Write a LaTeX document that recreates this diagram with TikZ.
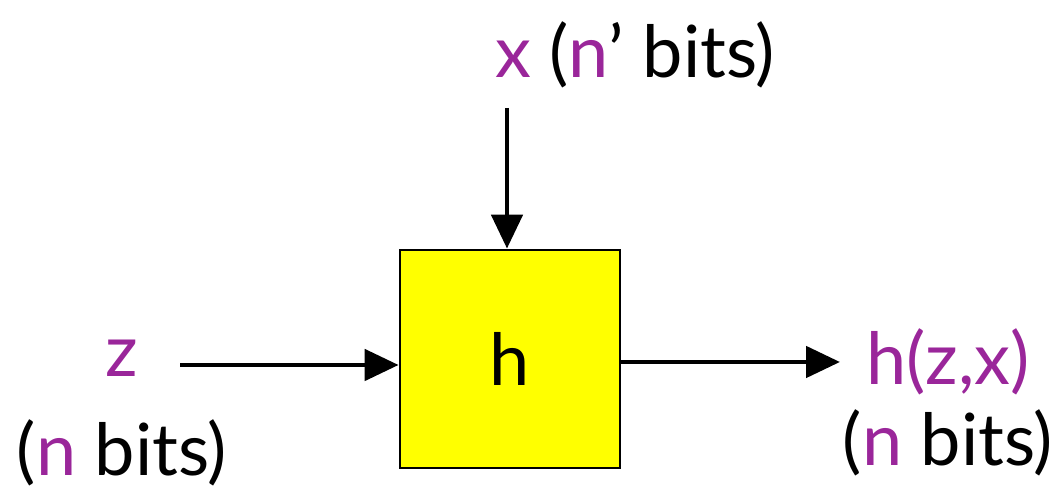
\documentclass[tikz,border=0pt]{standalone}
\usepackage{fontspec}
\setmainfont{Lato}
\usepackage{tikz}
\usetikzlibrary{arrows.meta,positioning}
\definecolor{bitpurple}{RGB}{154,38,154}
\definecolor{boxyellow}{RGB}{255,255,0}
\newcommand{\pv}[1]{\textcolor{bitpurple}{#1}}

\begin{document}
\begin{tikzpicture}[font=\fontsize{41}{46}\selectfont,
    hbox/.style={draw,line width=1.6pt,fill=boxyellow,minimum width=4.4cm,minimum height=4.36cm},
    flow/.style={-{Triangle[length=0.68cm,width=0.62cm]},line width=2.8pt}]
        \useasboundingbox (0,0) rectangle (21.26,9.82);
        \node[hbox] (hash) at (10.2,2.64) {h};
        \node (xin) at (12.7,8.72) {\pv{x} (\pv{n}’ bits)};
        \coordinate (xstart) at (10.14,7.66);
        \node (zin) at (2.44,2.66) {\pv{z}};
        \node[below = 0.62cm of zin] (zbits) {(\pv{n} bits)};
        \node (hout) at (18.96,2.58) {\pv{h(z,x)}};
        \node[below = 0.05cm of hout] (houtbits) {(\pv{n} bits)};
        \draw [flow] (xstart) -- (xstart |- hash.north);
        \draw [flow] (3.6,2.52) -- (hash.west |- 0,2.52);
        \draw [flow] (hash.east |- 0,2.58) -- (16.8,2.58);
      \end{tikzpicture}
\end{document}
